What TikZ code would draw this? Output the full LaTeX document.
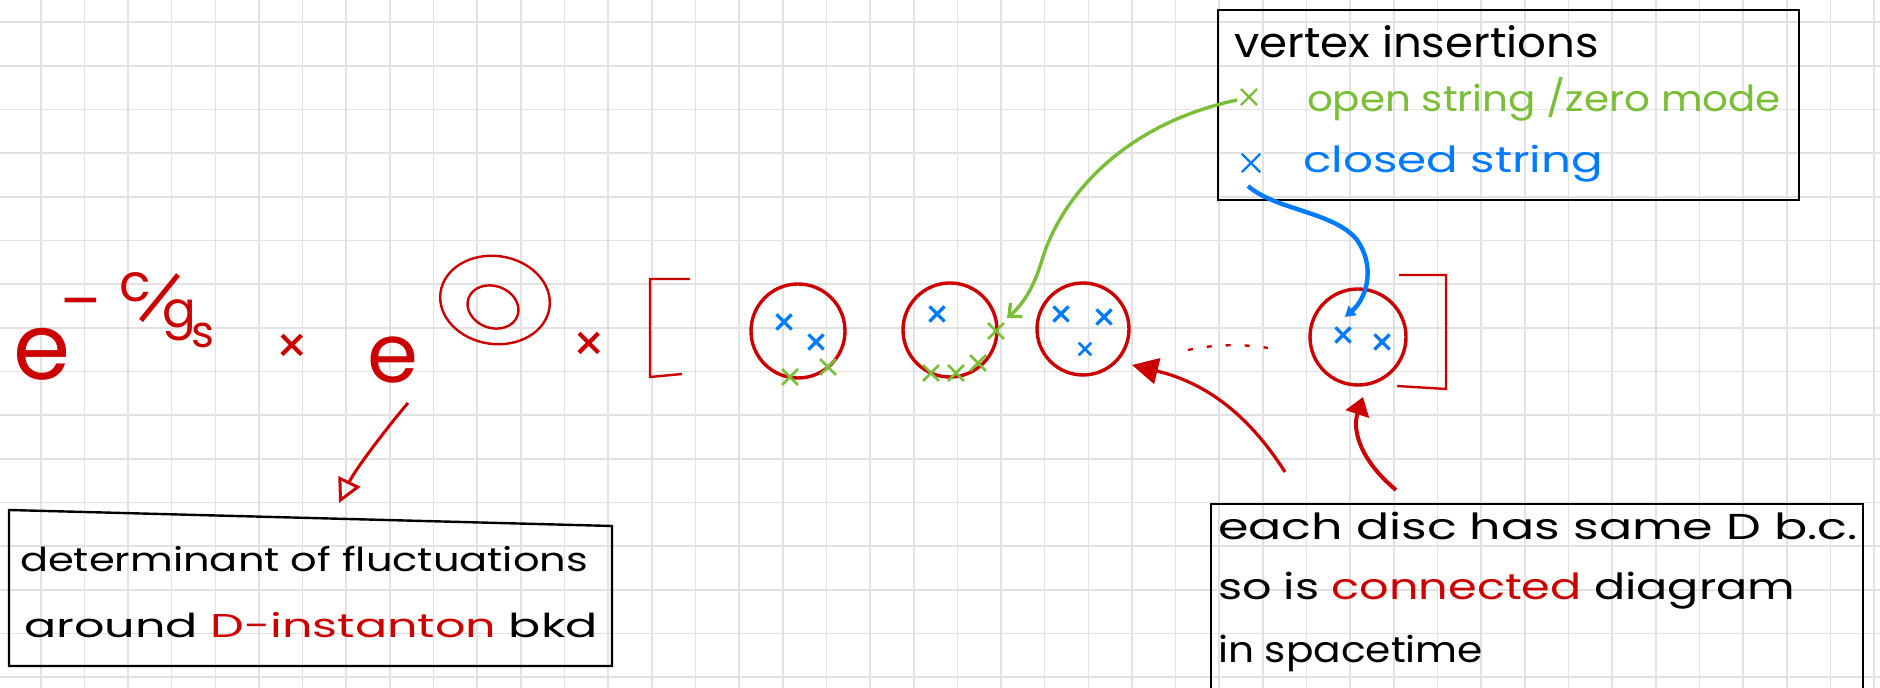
\documentclass[tikz,border=0pt]{standalone}
\usepackage{fontspec}
\setmainfont{Poppins}
\usetikzlibrary{arrows.meta,shapes.misc}
\definecolor{hred}{RGB}{205,0,0}
\definecolor{hgreen}{RGB}{122,190,55}
\definecolor{hblue}{RGB}{0,122,255}
\definecolor{gridc}{RGB}{226,226,226}
\newcommand{\hw}[2]{\resizebox{#1}{\height}{#2}}
\newcommand{\fsz}[1]{\fontsize{#1}{#1}\selectfont}
\begin{document}
\begin{tikzpicture}[x=0.5pt,y=-0.5pt,
  txt/.style={anchor=base west, inner sep=0pt, outer sep=0pt},
  rtxt/.style={txt, text=hred},
  disc/.style={circle, draw=hred, line width=1.7pt, inner sep=0pt},
  bx/.style={cross out, draw=hblue, line width=1.6pt, minimum size=6pt, inner sep=0pt},
  gx/.style={cross out, draw=hgreen, line width=1.4pt, minimum size=6.5pt, inner sep=0pt},
  boxline/.style={draw=black, line width=1.2pt},
  redpen/.style={hred, line width=1.2pt},
  gridline/.style={gridc, line width=0.8pt}]
\fill[white] (0,0) rectangle (1880,688);
\useasboundingbox (0,0) rectangle (1880,688);
\foreach \i in {0,...,42} \draw[gridline] ({40.7+43.65*\i},0) -- ({40.7+43.65*\i},688);
\foreach \j in {0,...,15} \draw[gridline] (0,{22.3+43.65*\j}) -- (1880,{22.3+43.65*\j});

% first exponential
\node[rtxt, font=\fsz{46}] (e1) at (13,380) {e};
\node[rtxt, font=\fsz{30}] (mn) at (60,323) {–};
\node[rtxt, font=\fsz{26}] (cc) at (119,302) {c};
\node[text=hred, inner sep=0pt, anchor=center] (sl) at (160,298) {\rotatebox{-39}{\resizebox{\width}{26pt}{\fsz{28}|}}};
\node[rtxt, font=\fsz{25}] (gg) at (162,328) {g};
\node[rtxt, font=\fsz{22}] (ss) at (191,348) {s};
\node[text=hred, font=\fsz{26}, inner sep=0pt] (t1) at (292,349) {×};

% second exponential
\node[rtxt, font=\fsz{41}] (e2) at (367,383) {e};
\draw[redpen, rotate around={-8:(495,300)}] (495,300) ellipse [x radius=55, y radius=44];
\draw[redpen, rotate around={-20:(493,307)}] (493,307) ellipse [x radius=26, y radius=21];
\node[text=hred, font=\fsz{26}, inner sep=0pt] (t2) at (589,347) {×};

% brackets
\draw[redpen] (690,279) -- (650,279) -- (650,377) -- (682,374);
\draw[redpen] (1399,275) -- (1446,275) -- (1446,389) -- (1397,386);

% discs
\node[disc, minimum size=47pt] (d1) at (798,331) {};
\node[disc, minimum size=47pt] (d2) at (950,330) {};
\node[disc, minimum size=46pt] (d3) at (1083,329) {};
\node[disc, minimum size=48pt] (d4) at (1358,337) {};

\node[bx] (b11) at (784,322) {};
\node[bx] (b12) at (816,342) {};
\node[gx] (g11) at (790,377) {};
\node[gx] (g12) at (828,367) {};
\node[bx] (b21) at (937,314) {};
\node[gx] (g21) at (996,331) {};
\node[gx] (g22) at (931,373) {};
\node[gx] (g23) at (956,373) {};
\node[gx] (g24) at (978,363) {};
\node[bx] (b31) at (1061,314) {};
\node[bx] (b32) at (1104,317) {};
\node[bx, minimum size=5pt, line width=1.3pt] (b33) at (1085,349) {};
\node[bx] (b41) at (1343,335) {};
\node[bx] (b42) at (1382,342) {};

\coordinate (dotsA) at (1188,350);
\coordinate (dotsB) at (1268,348);
\draw[redpen, dash pattern=on 2.5pt off 7pt] (dotsA) .. controls (1215,344) and (1245,344) .. (dotsB);

% legend box
\node[boxline, minimum width=290.5pt, minimum height=95pt, anchor=north west, inner sep=0pt] (leg) at (1217,9) {};
\node[txt, font=\fsz{21}] (lt) at (1234,58) {\hw{182.5pt}{vertex insertions}};
\node[gx, line width=1.1pt, minimum size=7pt] (lg) at (1249,97) {};
\node[txt, font=\fsz{18}, text=hgreen] (lo) at (1307,112) {\hw{237pt}{open string /zero mode}};
\node[bx, line width=1.2pt, minimum size=8pt] (lb) at (1251,163) {};
\node[txt, font=\fsz{18}, text=hblue] (lc) at (1303,173) {\hw{150pt}{closed string}};

% bottom left box
\draw[boxline] (9,510) -- (612,526) -- (612,666) -- (9,666) -- cycle;
\node[txt, font=\fsz{16.5}] (bl1) at (20,572) {\hw{284pt}{determinant of fluctuations}};
\node[txt, font=\fsz{16.5}] (bl2) at (24,638) {\hw{287pt}{around \textcolor{hred}{D-instanton} bkd}};

% bottom right box
\draw[boxline] (1211,700) -- (1211,504) -- (1863,504) -- (1863,700);
\node[txt, font=\fsz{18}] (br1) at (1218,540) {\hw{320pt}{each disc has same D b.c.}};
\node[txt, font=\fsz{18}] (br2) at (1218,600) {\hw{288.5pt}{so is \textcolor{hred}{connected} diagram}};
\node[txt, font=\fsz{18}] (br3) at (1218,663) {\hw{132.5pt}{in spacetime}};

% arrows
\coordinate (a1s) at (408,403);
\coordinate (a1e) at (339,503);
\draw[hred, line width=1.5pt, -{Triangle[open, length=12pt, width=12pt, line width=1.5pt]}] (a1s) .. controls (385,430) and (355,470) .. (a1e);

\coordinate (a2s) at (1237,100);
\coordinate (a2m) at (1042,260);
\coordinate (a2e) at (1007,318);
\draw[hgreen, line width=1.7pt, -{Straight Barb[length=5pt, width=9pt]}] (a2s) .. controls (1120,125) and (1060,200) .. (a2m) .. controls (1033,290) and (1022,305) .. (a2e);

\coordinate (a3s) at (1248,186);
\coordinate (a3m) at (1357,240);
\coordinate (a3e) at (1345,317);
\draw[hblue, line width=2.2pt, -{Triangle[length=5pt, width=6pt]}] (a3s) .. controls (1275,210) and (1335,212) .. (a3m) .. controls (1375,265) and (1368,297) .. (a3e);

\coordinate (a4s) at (1285,472);
\coordinate (a4e) at (1132,365);
\draw[hred, line width=1.6pt, -{Triangle[length=13pt, width=13pt]}] (a4s) .. controls (1255,425) and (1215,385) .. (a4e);

\coordinate (a5s) at (1396,490);
\coordinate (a5e) at (1363,397);
\draw[hred, line width=2pt, -{Triangle[length=9pt, width=12pt]}] (a5s) .. controls (1360,460) and (1352,430) .. (a5e);
\end{tikzpicture}
\end{document}
